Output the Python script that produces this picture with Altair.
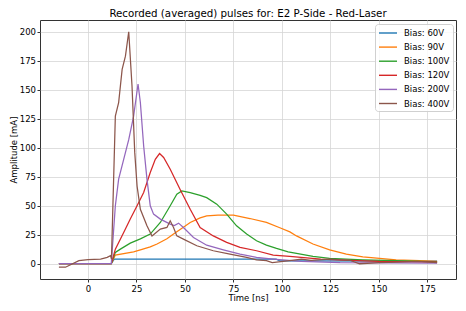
import altair as alt
import pandas as pd

# ---- data ----
t_60 = [-15, 12, 13.5, 97, 99, 180]
v_60 = [0, 0, 4.0, 4.0, 2.4, 2.2]

t_90 = [-15, 12, 14.1, 23.5, 27, 32.1, 35.6, 40.7, 44.1, 49.2, 52.7, 57.8, 61.2, 67, 75, 83.5, 92, 98.9, 104.1, 107.5, 116, 124.6, 133.2, 141.7, 150.3, 158.9, 170.9, 180]
v_90 = [0, 0, 7.5, 10.3, 12, 14.5, 17, 21.5, 25.6, 31.5, 35.6, 39.5, 41.3, 42, 41.9, 39, 35.6, 31, 27.5, 24, 17, 12, 8.3, 6, 4.6, 3.4, 2.6, 2]

t_100 = [-15, 12, 14.1, 16.7, 21.8, 27, 32.1, 37.3, 42.4, 45.8, 48.4, 52.7, 57.8, 61.2, 66.4, 71.5, 76.6, 81.8, 86.9, 92, 97.2, 103.2, 107.5, 116, 124.6, 141.7, 158.9, 180]
v_100 = [0, 0, 9.8, 12.6, 17.8, 21.5, 25.6, 35.6, 50, 60, 62.8, 61.4, 59, 57, 51.4, 42.8, 32.7, 25.6, 19.8, 16, 13.2, 10.3, 8.9, 6.4, 4.6, 3.4, 2.6, 1.7]

t_120 = [-15, 12, 14.1, 18.4, 21.8, 25.3, 28.7, 32.1, 34.7, 36.9, 39, 42.4, 47.5, 52.7, 57.8, 64.6, 71.5, 78.4, 86.9, 95.5, 104, 120, 135, 150, 180]
v_120 = [0, 0, 12.6, 27, 38.5, 50, 61.4, 78.6, 90, 95, 91.6, 81.5, 64, 47, 31.3, 24, 18.4, 14.1, 11.2, 7.5, 6.4, 4, 3, 2, 1.5]

t_200 = [-15, 12, 14.1, 15.8, 18.4, 21, 23.5, 25.8, 27, 28.7, 30.4, 32.1, 33.8, 37.3, 42.4, 44.5, 46.7, 49.2, 54.4, 61.2, 69.8, 78.4, 86.9, 95.5, 110, 130, 180]
v_200 = [0, 0, 50, 73, 90, 107, 127, 155, 139, 101.5, 73, 50, 42.8, 38.5, 34.2, 33, 35, 31.3, 22.7, 16, 12, 8.3, 5.5, 4, 2, 1, 0.5]

t_400 = [-15, -11.6, -4.7, 0, 6.5, 9.9, 11.6, 12.1, 14.1, 15.8, 17.6, 19.3, 21, 22.7, 24.1, 25.3, 27, 30.4, 33, 37.3, 40.7, 42.4, 44.1, 45.8, 49.2, 56.1, 64.6, 73.2, 81.8, 86.9, 92, 95, 105, 110, 115, 125, 135, 140, 150, 160, 170, 180]
v_400 = [-3, -3, 2.6, 3.5, 4, 5.5, 7, 4, 127.4, 139, 167.5, 179, 200, 153, 96, 67, 47, 32.7, 24, 29.9, 31.3, 37, 31.3, 24, 21.2, 15.5, 11.2, 8.3, 5.5, 3.4, 2.6, 1, 3, 4, 3, 4, 3, 0, 1, 1.5, 2, 1]

series_names = ["Bias: 60V", "Bias: 90V", "Bias: 100V", "Bias: 120V", "Bias: 200V", "Bias: 400V"]
series_colors = ["#1f77b4", "#ff7f0e", "#2ca02c", "#d62728", "#9467bd", "#8c564b"]
series_t = [t_60, t_90, t_100, t_120, t_200, t_400]
series_v = [v_60, v_90, v_100, v_120, v_200, v_400]

x_ticks = [0, 25, 50, 75, 100, 125, 150, 175]
y_ticks = [0, 25, 50, 75, 100, 125, 150, 175, 200]

rows = []
for i, (name, ts, vs) in enumerate(zip(series_names, series_t, series_v)):
    for j, (t, v) in enumerate(zip(ts, vs)):
        rows.append({"series": name, "time": t, "amp": v, "k": i, "j": j})
df = pd.DataFrame(rows)

FONT = "DejaVu Sans"

chart = (
    alt.Chart(df)
    .mark_line(strokeWidth=1.25)
    .encode(
        x=alt.X("time:Q", title="Time [ns]",
                scale=alt.Scale(domain=[-24.75, 189.75], nice=False, zero=False),
                axis=alt.Axis(values=x_ticks)),
        y=alt.Y("amp:Q", title="Amplitude [mA]",
                scale=alt.Scale(domain=[-13.15, 210.15], nice=False, zero=False),
                axis=alt.Axis(values=y_ticks)),
        color=alt.Color("series:N",
                        scale=alt.Scale(domain=series_names, range=series_colors),
                        sort=series_names,
                        legend=alt.Legend(title=None, orient="none",
                                          legendX=335, legendY=4)),
        detail="k:O",
        order="j:Q",
    )
    .properties(
        width=416,
        height=259,
        title=alt.TitleParams("Recorded (averaged) pulses for: E2 P-Side - Red-Laser",
                              fontSize=10.25, font=FONT, fontWeight="normal",
                              color="black", offset=0.5, anchor="middle"),
        autosize=alt.AutoSizeParams(type="none"),
        padding={"left": 32, "top": 12, "right": 2, "bottom": 30},
    )
    .configure_view(stroke="#333333", strokeWidth=1)
    .configure_axis(
        labelFont=FONT, titleFont=FONT, labelFontSize=8.5, titleFontSize=8.5,
        labelColor="black", titleColor="black", titleFontWeight="normal",
        domain=False, tickColor="#333333", tickSize=3,
        gridColor="#d6d6d6", gridWidth=0.8, labelPadding=1.5,
    )
    .configure_axisX(titlePadding=1, labelPadding=2)
    .configure_axisY(titlePadding=1)
    .configure_legend(
        labelFont=FONT, labelFontSize=8.5, labelColor="black",
        symbolType="M-1,0H2.6", symbolSize=100, symbolStrokeWidth=1.4,
        strokeColor="#d0d0d0", fillColor="rgba(255,255,255,0.85)",
        cornerRadius=3, padding=3, rowPadding=3.1, labelOffset=14,
    )
)

chart.save("out.html", embed_options={"renderer": "svg", "actions": False})
